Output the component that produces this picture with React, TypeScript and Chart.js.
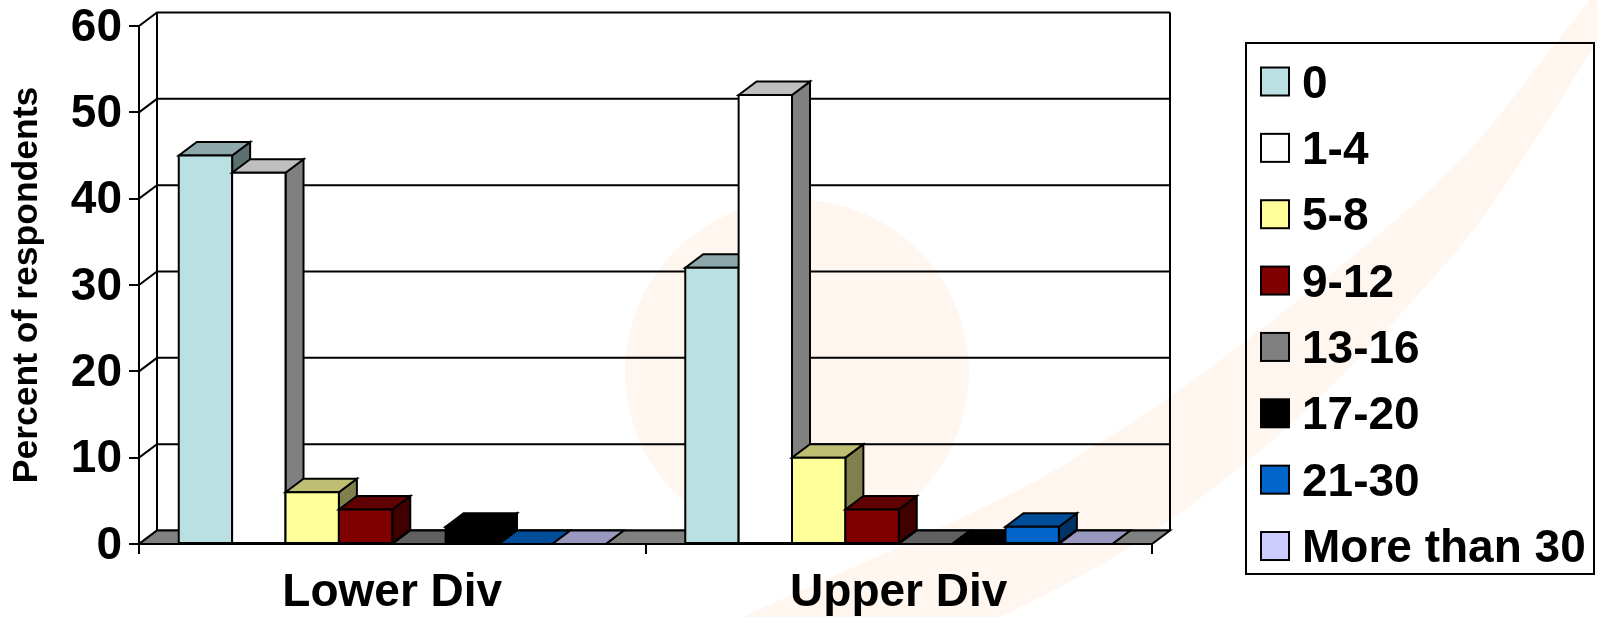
import React, { useEffect, useRef } from "react";
import { Chart, registerables, BarController, BarElement } from "chart.js";

// Survey results, percent of respondents per group
const divisions = ["Lower Div", "Upper Div"];
const bucketLabels = ["0", "1-4", "5-8", "9-12", "13-16", "17-20", "21-30", "More than 30"];
const bucket0 = [45, 32];
const bucket1to4 = [43, 52];
const bucket5to8 = [6, 10];
const bucket9to12 = [4, 4];
const bucket13to16 = [0, 0];
const bucket17to20 = [2, 0];
const bucket21to30 = [0, 2];
const bucketOver30 = [0, 0];
const bucketValues = [bucket0, bucket1to4, bucket5to8, bucket9to12, bucket13to16, bucket17to20, bucket21to30, bucketOver30];
const bucketColors = ["#BAE0E2", "#FFFFFF", "#FFFF99", "#800000", "#808080", "#000000", "#0066CC", "#CCCCFF"];
const yTicks = [0, 10, 20, 30, 40, 50, 60];

const FONT = "'Liberation Sans', Arial, sans-serif";
const DEPTH_X = 18;
const DEPTH_Y = 13.5;
const WASH = "#FFF6F0";

// Edges of the pale swoosh behind the chart, running up to the top right corner and back
const swooshUpperEdge = [[742, 617], [1000, 503], [1100, 443], [1177, 393], [1300, 300], [1460, 167], [1550, 50], [1590, 0]];
const swooshLowerEdge = [[1598, 40], [1500, 200], [1415, 300], [1300, 420], [1173, 520], [1100, 567], [1000, 617]];

// Multiplies a #rrggbb colour towards black, used for the shaded box faces.
function shade(hex: string, factor: number): string {
  const n = parseInt(hex.slice(1), 16);
  const c = [(n >> 16) & 255, (n >> 8) & 255, n & 255].map((v) => Math.round(v * factor));
  return `rgb(${c[0]},${c[1]},${c[2]})`;
}

function polygon(ctx: CanvasRenderingContext2D, pts: number[][], fill: string) {
  ctx.beginPath();
  pts.forEach(([x, y], i) => (i ? ctx.lineTo(x, y) : ctx.moveTo(x, y)));
  ctx.closePath();
  ctx.fillStyle = fill;
  ctx.fill();
  ctx.stroke();
}

// Continues the current path through a run of points with rounded corners.
function smoothRun(ctx: CanvasRenderingContext2D, pts: number[][]) {
  ctx.lineTo(pts[0][0], pts[0][1]);
  for (let i = 1; i < pts.length - 1; i++) {
    const midX = (pts[i][0] + pts[i + 1][0]) / 2;
    const midY = (pts[i][1] + pts[i + 1][1]) / 2;
    ctx.quadraticCurveTo(pts[i][0], pts[i][1], midX, midY);
  }
  const last = pts[pts.length - 1];
  ctx.lineTo(last[0], last[1]);
}

// A bar rendered as an extruded box: side, top, then front face.
class Box3D extends BarElement {
  static id = "box3d";
  draw(ctx: CanvasRenderingContext2D) {
    const { x, y, base, width } = this as any;
    const o = (this as any).options;
    const l = x - width / 2;
    const r = x + width / 2;
    ctx.save();
    ctx.strokeStyle = o.borderColor;
    ctx.lineWidth = o.borderWidth;
    ctx.lineJoin = "miter";
    polygon(ctx, [[r, y], [r + DEPTH_X, y - DEPTH_Y], [r + DEPTH_X, base - DEPTH_Y], [r, base]], shade(o.backgroundColor, 0.5));
    polygon(ctx, [[l, y], [l + DEPTH_X, y - DEPTH_Y], [r + DEPTH_X, y - DEPTH_Y], [r, y]], shade(o.backgroundColor, 0.75));
    if (base - y > 0.5) {
      polygon(ctx, [[l, y], [r, y], [r, base], [l, base]], o.backgroundColor);
    }
    ctx.restore();
  }
}

class Box3DController extends BarController {
  static id = "box3d";
  static defaults = { dataElementType: "box3d" };
}

// Faint decorative disc and swoosh, then the chart's walls and floor.
const backdrop = {
  id: "backdrop",
  beforeDraw(chart: any) {
    const { ctx, chartArea: a, scales } = chart;
    const y = scales.y;
    ctx.save();
    ctx.fillStyle = "#FFFFFF";
    ctx.fillRect(0, 0, chart.width, chart.height);

    ctx.fillStyle = WASH;
    ctx.beginPath();
    ctx.arc(797, 372, 172, 0, Math.PI * 2);
    ctx.fill();
    ctx.beginPath();
    ctx.moveTo(swooshUpperEdge[0][0], swooshUpperEdge[0][1]);
    smoothRun(ctx, swooshUpperEdge);
    ctx.lineTo(1598, 0);
    smoothRun(ctx, swooshLowerEdge);
    ctx.closePath();
    ctx.fill();

    ctx.strokeStyle = "#000000";
    ctx.lineWidth = 2;
    yTicks.forEach((t) => {
      const py = y.getPixelForValue(t);
      ctx.beginPath();
      ctx.moveTo(a.left, py);
      ctx.lineTo(a.left + DEPTH_X, py - DEPTH_Y);
      ctx.lineTo(a.right + DEPTH_X, py - DEPTH_Y);
      ctx.stroke();
    });
    ctx.beginPath();
    ctx.moveTo(a.left + DEPTH_X, a.top - DEPTH_Y);
    ctx.lineTo(a.left + DEPTH_X, a.bottom - DEPTH_Y);
    ctx.moveTo(a.right + DEPTH_X, a.top - DEPTH_Y);
    ctx.lineTo(a.right + DEPTH_X, a.bottom - DEPTH_Y);
    ctx.stroke();
    polygon(
      ctx,
      [[a.left, a.bottom], [a.left + DEPTH_X, a.bottom - DEPTH_Y], [a.right + DEPTH_X, a.bottom - DEPTH_Y], [a.right, a.bottom]],
      "#808080"
    );
    ctx.restore();
  },
  // Boxes are painted left to right so each one overlaps its left neighbour.
  beforeDatasetsDraw(chart: any) {
    const n = chart.data.datasets.length;
    const groups = chart.data.labels.length;
    for (let g = 0; g < groups; g++) {
      for (let i = 0; i < n; i++) {
        chart.getDatasetMeta(i).data[g].draw(chart.ctx);
      }
    }
    return false;
  },
  afterDraw(chart: any) {
    const { ctx, chartArea: a } = chart;
    ctx.save();
    ctx.strokeStyle = "#000000";
    ctx.lineWidth = 2;
    const groupWidth = (a.right - a.left) / divisions.length;
    for (let i = 0; i <= divisions.length; i++) {
      const px = Math.round(a.left + i * groupWidth);
      ctx.beginPath();
      ctx.moveTo(px, a.bottom);
      ctx.lineTo(px, a.bottom + 10);
      ctx.stroke();
    }

    // Framed key on the right
    const left = 1246;
    const top = 43;
    ctx.lineWidth = 2;
    ctx.strokeRect(left, top, 348, 531);
    ctx.font = `bold 46px ${FONT}`;
    ctx.textAlign = "left";
    ctx.textBaseline = "alphabetic";
    chart.data.datasets.forEach((ds: any, i: number) => {
      const cy = 81.5 + i * 66.36;
      ctx.fillStyle = ds.backgroundColor;
      ctx.fillRect(left + 15, cy - 14, 28, 28);
      ctx.strokeRect(left + 15, cy - 14, 28, 28);
      ctx.fillStyle = "#000000";
      ctx.fillText(ds.label, left + 56, cy + 16);
    });
    ctx.restore();
  },
};

Chart.register(...registerables, Box3D, Box3DController);

export default function App() {
  const ref = useRef<HTMLCanvasElement>(null);
  useEffect(() => {
    const chart = new Chart(ref.current as HTMLCanvasElement, {
      type: "box3d" as any,
      data: {
        labels: divisions,
        datasets: bucketLabels.map((label, i) => ({
          label,
          data: bucketValues[i],
          backgroundColor: bucketColors[i],
          borderColor: "#000000",
          borderWidth: 2,
          categoryPercentage: 0.843,
          barPercentage: 1,
        })),
      },
      plugins: [backdrop],
      options: {
        responsive: false,
        animation: false,
        layout: { padding: { top: 26, right: 446, bottom: 0, left: 0 } },
        plugins: { legend: { display: false }, tooltip: { enabled: false } },
        scales: {
          x: {
            type: "category",
            offset: true,
            grid: { display: false },
            border: { display: true, color: "#000000", width: 2, z: 1 },
            ticks: {
              color: "#000000",
              font: { family: FONT, size: 46, weight: "bold" },
              padding: 14,
              maxRotation: 0,
              autoSkip: false,
            },
            afterFit(scale: any) {
              scale.height = 73;
              scale.paddingLeft = 0;
              scale.paddingRight = 0;
            },
          },
          y: {
            type: "linear",
            min: 0,
            max: 60,
            afterBuildTicks(scale: any) {
              scale.ticks = yTicks.map((value) => ({ value }));
            },
            grid: { drawOnChartArea: false, drawTicks: true, tickLength: 10, color: "#000000", lineWidth: 2 },
            border: { display: true, color: "#000000", width: 2 },
            ticks: {
              color: "#000000",
              font: { family: FONT, size: 46, weight: "bold" },
              padding: 7,
              labelOffset: 2,
            },
            title: {
              display: true,
              text: "Percent of respondents",
              color: "#000000",
              font: { family: FONT, size: 35.5, weight: "bold" },
              padding: { top: 6, bottom: 0 },
            },
            afterFit(scale: any) {
              scale.width = 139;
              scale.paddingTop = 0;
              scale.paddingBottom = 0;
            },
          },
        },
      } as any,
    });
    return () => chart.destroy();
  }, []);
  return (
    <div style={{ position: "absolute", left: 0, top: 0, width: 1598, height: 617 }}>
      <canvas ref={ref} width={1598} height={617} style={{ display: "block" }} />
    </div>
  );
}
